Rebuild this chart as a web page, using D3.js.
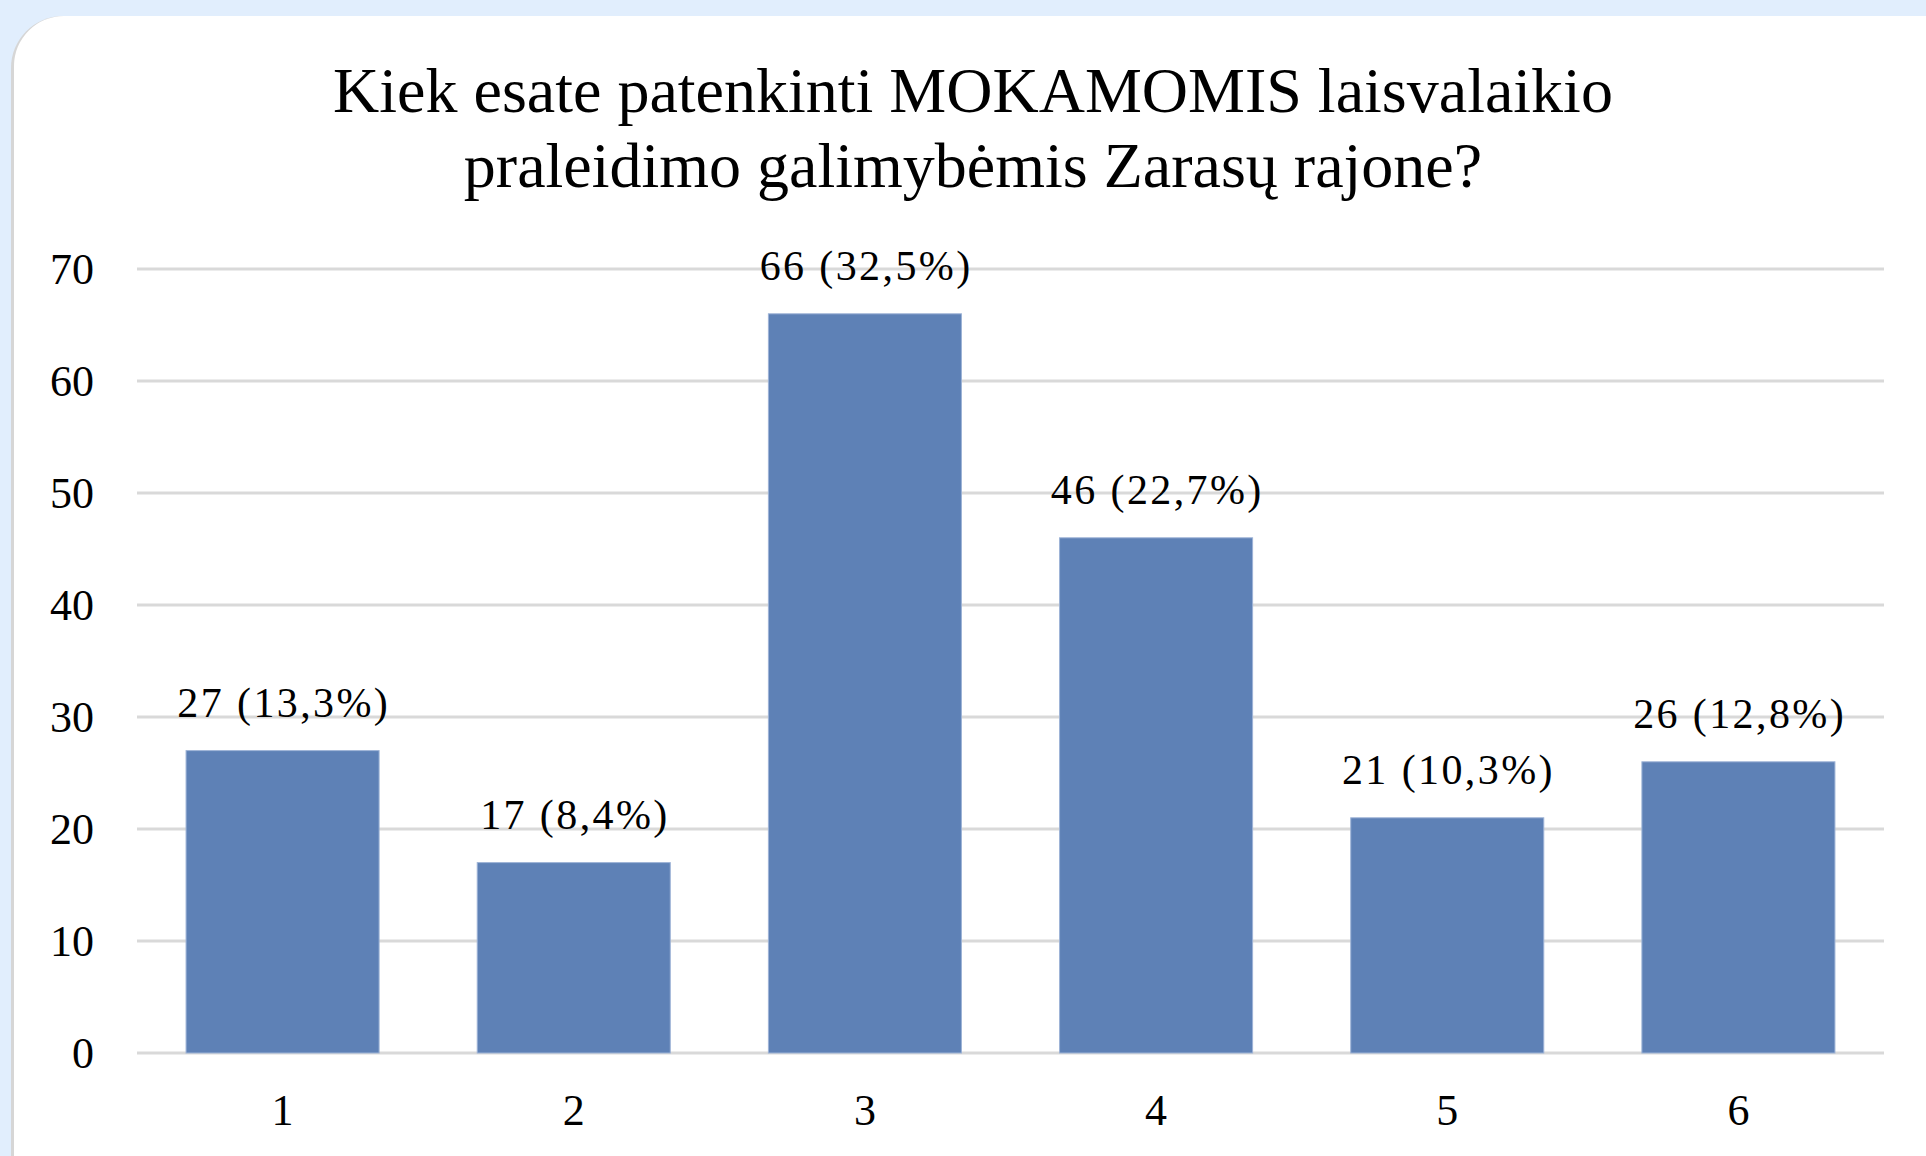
<!DOCTYPE html>
<html><head><meta charset="utf-8">
<script src="https://cdn.jsdelivr.net/npm/d3@7"></script>
<style>
html,body{margin:0;padding:0;background:#E1EEFD;}
svg{display:block;}
</style></head>
<body>
<svg id="chart" width="1926" height="1156"></svg>
<script>
const categories = ["1","2","3","4","5","6"];
const values = [27, 17, 66, 46, 21, 26];
const percents = ["13,3%","8,4%","32,5%","22,7%","10,3%","12,8%"];
const yTicks = [0,10,20,30,40,50,60,70];
const titleLines = ["Kiek esate patenkinti MOKAMOMIS laisvalaikio","praleidimo galimybėmis Zarasų rajone?"];

(function(){
const svg = d3.select("#chart");
const W = 1926, H = 1156;
svg.append("rect").attr("width",W).attr("height",H).attr("fill","#E1EEFD");
// card
svg.append("rect").attr("x",11).attr("y",16).attr("width",1960).attr("height",1190).attr("rx",52).attr("fill","#D6D6D6");
svg.append("rect").attr("x",14).attr("y",16).attr("width",1960).attr("height",1190).attr("rx",50).attr("fill","#FFFFFF");

const font = "'Liberation Serif','Times New Roman',serif";
const pL = 137, pR = 1884, pT = 269, pB = 1053;

const x = d3.scaleBand().domain(categories).range([pL,pR]).paddingInner(0.337).paddingOuter(0.1685);
const y = d3.scaleLinear().domain([0,70]).range([pB,pT]);

// gridlines
svg.append("g").selectAll("line").data(yTicks).join("line")
  .attr("x1",pL).attr("x2",pR)
  .attr("y1",d=>y(d)).attr("y2",d=>y(d))
  .attr("stroke","#D9D9D9").attr("stroke-width",3);

// y axis labels
const yAxis = d3.axisLeft(y).tickValues(yTicks).tickSize(0).tickPadding(0);
const gy = svg.append("g").attr("transform",`translate(94,0)`).call(yAxis);
gy.select(".domain").remove();
gy.selectAll("text").attr("font-family",font).attr("font-size",44).attr("fill","#000").attr("dy","0.32em");

// bars
svg.append("g").selectAll("rect").data(values).join("rect")
  .attr("x",(d,i)=>x(categories[i]))
  .attr("y",d=>y(d))
  .attr("width",x.bandwidth())
  .attr("height",d=>pB-y(d))
  .attr("fill","#5E81B6")
  .attr("stroke","#9DB3D6").attr("stroke-width",1);

// value labels
const ls = 2.4;
svg.append("g").selectAll("text").data(values).join("text")
  .attr("x",(d,i)=>x(categories[i])+x.bandwidth()/2 + ls/2)
  .attr("y",d=>y(d)-34)
  .attr("text-anchor","middle")
  .attr("letter-spacing",ls)
  .attr("font-family",font).attr("font-size",42).attr("fill","#000")
  .text((d,i)=>`${d} (${percents[i]})`);

// x axis labels
const xAxis = d3.axisBottom(x).tickSize(0).tickPadding(0);
const gx = svg.append("g").attr("transform",`translate(0,1125)`).call(xAxis);
gx.select(".domain").remove();
gx.selectAll("text").attr("font-family",font).attr("font-size",44).attr("fill","#000").attr("dy",0);

// title
svg.append("g").selectAll("text").data(titleLines).join("text")
  .attr("x",973).attr("y",(d,i)=>112+i*75)
  .attr("text-anchor","middle")
  .attr("font-family",font).attr("font-size",64).attr("fill","#000")
  .text(d=>d);
})();
</script>
</body></html>
